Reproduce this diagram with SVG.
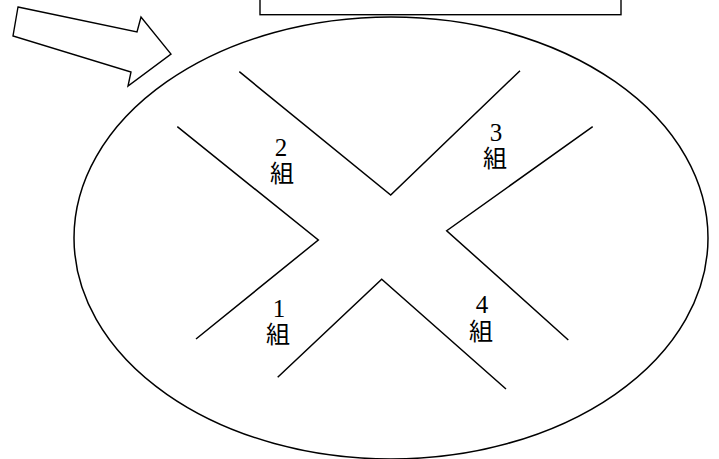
<svg xmlns="http://www.w3.org/2000/svg" width="719" height="459" viewBox="0 0 719 459">
<style>
.s{fill:none;stroke:#000;stroke-width:1.5;stroke-linejoin:miter}
.b{fill:#fff;stroke:#000;stroke-width:1.4}
.l{font-family:"Liberation Serif","DejaVu Serif",serif;font-size:25px;text-anchor:middle;fill:#000}
.k{font-family:"Noto Sans CJK JP","Noto Sans CJK SC",sans-serif;font-size:24px;font-weight:400}
</style>
<rect width="719" height="459" fill="#fff"/>
<g id="box"><rect class="b" x="260" y="-10" width="361" height="24.7"/></g>
<g id="arrow"><polygon class="b" points="18,7 137,32 141,17 171,54 128,86 131,72 13,36"/></g>
<g id="field"><ellipse class="s" cx="391" cy="238" rx="317" ry="221"/></g>
<g id="connectors">
<polyline class="s" points="239.3,71.7 390.7,195 520,70.7"/>
<polyline class="s" points="177.3,126.7 318.3,240 196,339"/>
<polyline class="s" points="592.7,126.7 446.7,230.7 568.3,340"/>
<polyline class="s" points="277.7,377.3 381.7,279.3 506,389"/>
</g>
<g id="group1"><text class="l"><tspan x="279" y="317">1</tspan><tspan class="k" x="278" y="343">組</tspan></text></g>
<g id="group2"><text class="l"><tspan x="281" y="156">2</tspan><tspan class="k" x="282" y="182">組</tspan></text></g>
<g id="group3"><text class="l"><tspan x="496" y="141">3</tspan><tspan class="k" x="495" y="167">組</tspan></text></g>
<g id="group4"><text class="l"><tspan x="482" y="313">4</tspan><tspan class="k" x="481" y="340">組</tspan></text></g>
</svg>
